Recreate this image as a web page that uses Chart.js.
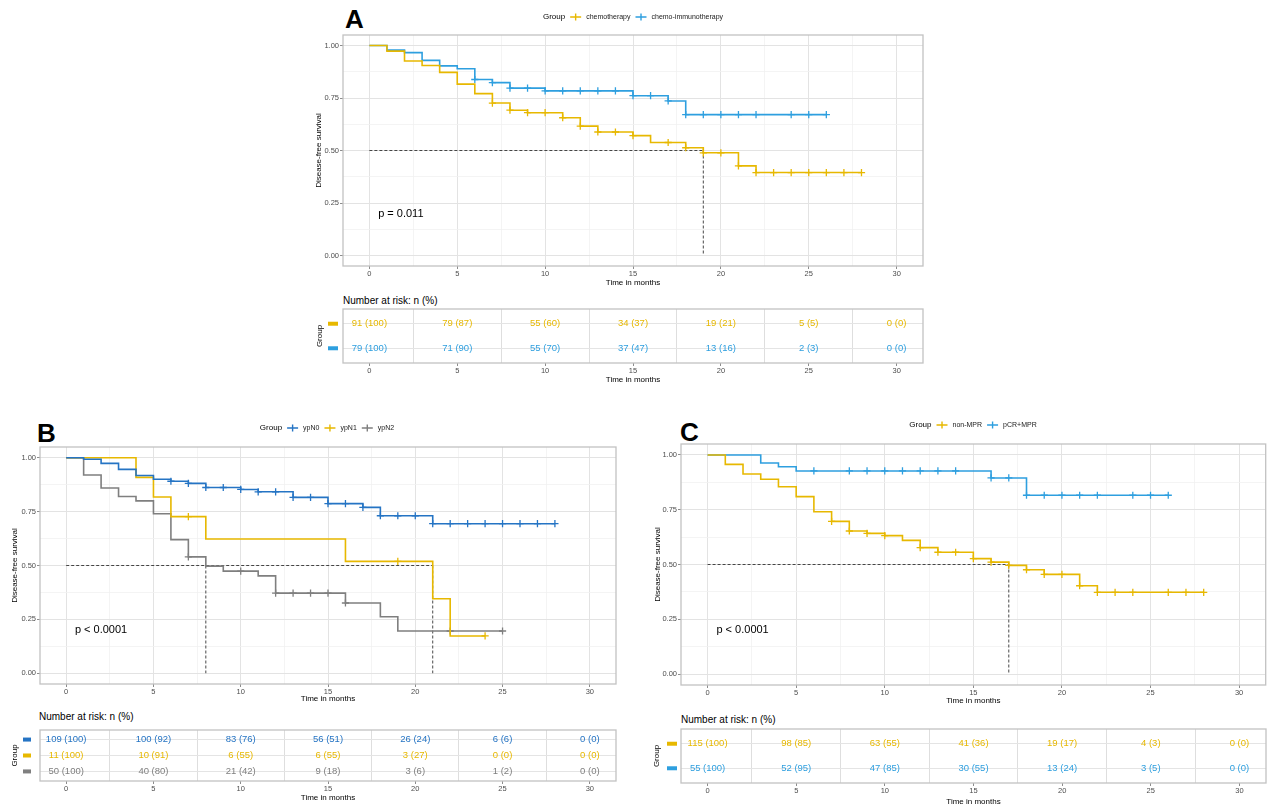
<!DOCTYPE html>
<html>
<head>
<meta charset="utf-8">
<script src="https://cdn.jsdelivr.net/npm/chart.js@4.4.1/dist/chart.umd.min.js"></script>
<style>
body { margin:0; background:#fff; width:1271px; height:809px; position:relative; overflow:hidden; font-family:'Liberation Sans', Arial, sans-serif; }
canvas { position:absolute; }
.lbl { position:absolute; white-space:nowrap; color:#000; }
.letter { font-weight:bold; font-size:26px; line-height:26px; }
.nrisk { font-size:10px; line-height:12px; }
</style>
</head>
<body>
<div class="lbl letter" style="left:345px;top:6px">A</div>
<div class="lbl letter" style="left:37px;top:420px">B</div>
<div class="lbl letter" style="left:680px;top:419px">C</div>
<div class="lbl nrisk" style="left:343px;top:295px">Number at risk: n (%)</div>
<div class="lbl nrisk" style="left:39px;top:711px">Number at risk: n (%)</div>
<div class="lbl nrisk" style="left:681px;top:714px">Number at risk: n (%)</div>
<script>
// ---------- data ----------
var riskTimes = [0, 5, 10, 15, 20, 25, 30];

// A : chemotherapy vs chemo-immunotherapy
var aChemoTime = [0, 1, 2, 3, 4, 5, 6, 7, 8, 9, 11, 12, 13, 15, 16, 18, 19, 21, 22, 28];
var aChemoSurv = [1, 0.973, 0.926, 0.905, 0.872, 0.816, 0.771, 0.726, 0.692, 0.680, 0.656, 0.616, 0.588, 0.571, 0.538, 0.513, 0.489, 0.427, 0.395, 0.395];
var aChemoCens = [7, 8, 9, 10, 11, 12, 13, 14, 15, 17, 18, 19, 20, 21, 22, 23, 24, 25, 26, 27, 28];
var aImmunoTime = [0, 1, 2, 3, 4, 5, 6, 7, 8, 10, 15, 17, 18, 26];
var aImmunoSurv = [1, 0.978, 0.966, 0.929, 0.903, 0.889, 0.838, 0.823, 0.797, 0.784, 0.761, 0.736, 0.671, 0.671];
var aImmunoCens = [6, 7, 8, 9, 10, 11, 12, 13, 14, 15, 16, 17, 18, 19, 20, 21, 22, 24, 25, 26];
var aMedians = [19];
var aRiskChemoN = [91, 79, 55, 34, 19, 5, 0];
var aRiskChemoPct = [100, 87, 60, 37, 21, 5, 0];
var aRiskImmunoN = [79, 71, 55, 37, 13, 2, 0];
var aRiskImmunoPct = [100, 90, 70, 47, 16, 3, 0];

// B : ypN0 / ypN1 / ypN2
var bN0Time = [0, 1, 2, 3, 4, 5, 6, 7, 8, 10, 11, 13, 15, 17, 18, 21, 28];
var bN0Surv = [1, 0.993, 0.974, 0.946, 0.918, 0.900, 0.891, 0.881, 0.862, 0.853, 0.842, 0.816, 0.787, 0.770, 0.731, 0.694, 0.694];
var bN0Cens = [6, 7, 8, 9, 10, 11, 12, 13, 14, 15, 16, 17, 18, 19, 20, 21, 22, 23, 24, 25, 26, 27, 28];
var bN1Time = [0, 4, 5, 6, 8, 16, 21, 22, 24];
var bN1Surv = [1, 0.909, 0.818, 0.727, 0.623, 0.519, 0.346, 0.173, 0.173];
var bN1Cens = [7, 19, 24];
var bN2Time = [0, 1, 2, 3, 4, 5, 6, 7, 8, 9, 11, 12, 16, 18, 19, 25];
var bN2Surv = [1, 0.920, 0.860, 0.820, 0.800, 0.740, 0.620, 0.540, 0.497, 0.474, 0.452, 0.372, 0.326, 0.262, 0.196, 0.196];
var bN2Cens = [7, 10, 12, 13, 14, 15, 16, 22, 25];
var bMedians = [8, 21];
var bRiskN0N = [109, 100, 83, 56, 26, 6, 0];
var bRiskN0Pct = [100, 92, 76, 51, 24, 6, 0];
var bRiskN1N = [11, 10, 6, 6, 3, 0, 0];
var bRiskN1Pct = [100, 91, 55, 55, 27, 0, 0];
var bRiskN2N = [50, 40, 21, 9, 3, 1, 0];
var bRiskN2Pct = [100, 80, 42, 18, 6, 2, 0];

// C : non-MPR vs pCR+MPR
var cNonTime = [0, 1, 2, 3, 4, 5, 6, 7, 8, 9, 10, 11, 12, 13, 15, 16, 17, 18, 19, 21, 22, 28];
var cNonSurv = [1, 0.957, 0.913, 0.889, 0.855, 0.810, 0.741, 0.697, 0.653, 0.642, 0.632, 0.610, 0.577, 0.556, 0.527, 0.511, 0.496, 0.476, 0.455, 0.403, 0.373, 0.373];
var cNonCens = [7, 8, 9, 10, 12, 13, 14, 15, 16, 17, 18, 19, 20, 21, 22, 23, 24, 26, 27, 28];
var cMprTime = [0, 3, 4, 5, 16, 18, 26];
var cMprSurv = [1, 0.963, 0.946, 0.927, 0.895, 0.816, 0.816];
var cMprCens = [6, 8, 9, 10, 11, 12, 13, 14, 16, 17, 18, 19, 20, 21, 22, 24, 25, 26];
var cMedians = [17];
var cRiskNonN = [115, 98, 63, 41, 19, 4, 0];
var cRiskNonPct = [100, 85, 55, 36, 17, 3, 0];
var cRiskMprN = [55, 52, 47, 30, 13, 3, 0];
var cRiskMprPct = [100, 95, 85, 55, 24, 5, 0];

var YELLOW = '#E7B800', BLUE = '#2E9FDF', DBLUE = '#2574C4', GREY = '#7f7f7f';
var FONT = "'Liberation Sans', Arial, sans-serif";

Chart.defaults.font.family = FONT;
Chart.defaults.color = '#4d4d4d';

// ---------- helpers ----------
function step_ticks(lo, hi, step)
{
	var out = [];
	for (var v = lo; v <= hi + 1e-9; v += step)
		out.push({value: Math.round(v * 1000) / 1000});
	return out;
}
function is_major(v, step)
{
	return Math.abs(v / step - Math.round(v / step)) < 1e-6;
}
function surv_at(time, surv, t)
{
	var s = surv[0];
	for (var i = 0; i < time.length; i++)
		if (time[i] <= t) s = surv[i];
	return s;
}
function make_canvas(id, b)
{
	var c = document.createElement('canvas');
	c.id = id;
	c.width = b.width; c.height = b.height;
	c.style.left = b.left + 'px'; c.style.top = b.top + 'px';
	c.style.width = b.width + 'px'; c.style.height = b.height + 'px';
	document.body.appendChild(c);
	return c.getContext('2d');
}
function border_plugin()
{
	return {
		id: 'panelBorder',
		afterDatasetsDraw: function(chart)
		{
			var a = chart.chartArea, ctx = chart.ctx;
			ctx.save();
			ctx.strokeStyle = '#c2c2c2';
			ctx.lineWidth = 1.3;
			ctx.strokeRect(a.left, a.top, a.right - a.left, a.bottom - a.top);
			ctx.restore();
		}
	};
}

//KM chart
function draw_km(id, b, groups, medians, pval)
{
	var ctx = make_canvas(id, b);
	var datasets = [];
	groups.forEach(function(g)
	{
		datasets.push({
			data: g.time.map(function(t, i){ return {x: t, y: g.surv[i]}; }),
			showLine: true, stepped: 'before', borderColor: g.color, borderWidth: 1.6,
			pointRadius: 0, fill: false
		});
	});
	groups.forEach(function(g)
	{
		datasets.push({
			data: g.cens.map(function(t){ return {x: t, y: surv_at(g.time, g.surv, t)}; }),
			showLine: false, pointStyle: 'cross', pointRadius: 3.6, pointBorderWidth: 1.3,
			borderColor: g.color, backgroundColor: g.color
		});
	});
	var last = Math.max.apply(null, medians);
	var dash = {showLine: true, borderColor: '#333', borderWidth: 0.9, borderDash: [3, 2], pointRadius: 0};
	datasets.push(Object.assign({data: [{x: 0, y: 0.5}, {x: last, y: 0.5}]}, dash));
	medians.forEach(function(m)
	{
		datasets.push(Object.assign({data: [{x: m, y: 0.5}, {x: m, y: 0}]}, dash));
	});

	var xH = b.top + b.height - b.areaBottom;
	var yW = b.areaLeft - b.left;
	var legend = {
		id: 'kmLegend',
		afterDraw: function(chart)
		{
			var c = chart.ctx;
			c.save();
			c.textBaseline = 'middle';
			c.font = '8px ' + FONT;
			var total = c.measureText('Group').width + 5;
			c.font = '7px ' + FONT;
			groups.forEach(function(g){ total += 16 + c.measureText(g.label).width + 5; });
			total -= 5;
			var x = b.legendX - b.left - total / 2, y = b.legendY - b.top;
			c.fillStyle = '#000';
			c.font = '8px ' + FONT;
			c.fillText('Group', x, y);
			x += c.measureText('Group').width + 5;
			c.font = '7px ' + FONT;
			groups.forEach(function(g)
			{
				c.strokeStyle = g.color;
				c.lineWidth = 1.4;
				c.beginPath();
				c.moveTo(x, y); c.lineTo(x + 11, y);
				c.moveTo(x + 5.5, y - 3.5); c.lineTo(x + 5.5, y + 3.5);
				c.stroke();
				c.fillStyle = '#1a1a1a';
				c.fillText(g.label, x + 16, y);
				x += 16 + c.measureText(g.label).width + 5;
			});
			// p value
			c.fillStyle = '#000';
			c.font = '11px ' + FONT;
			c.fillText(pval, chart.scales.x.getPixelForValue(0.5), chart.scales.y.getPixelForValue(0.2));
			c.restore();
		}
	};

	new Chart(ctx, {
		type: 'scatter',
		data: {datasets: datasets},
		plugins: [border_plugin(), legend],
		options: {
			responsive: false, animation: false, devicePixelRatio: 1, events: [],
			layout: {padding: {top: b.areaTop - b.top, right: b.left + b.width - b.areaRight, left: 0, bottom: 0}},
			plugins: {legend: {display: false}, tooltip: {enabled: false}},
			scales: {
				x: {
					type: 'linear', min: -1.5, max: 31.5,
					afterBuildTicks: function(s){ s.ticks = step_ticks(0, 30, 2.5); },
					afterFit: function(s){ s.height = xH; },
					ticks: {autoSkip: false, maxRotation: 0, padding: 0, font: {size: 7.5}, color: '#4d4d4d',
						callback: function(v){ return is_major(v, 5) ? String(v) : ''; }},
					grid: {
						color: function(c){ return is_major(c.tick.value, 5) ? '#e3e3e3' : '#f1f1f1'; },
						lineWidth: function(c){ return is_major(c.tick.value, 5) ? 1 : 0.8; },
						tickColor: function(c){ return is_major(c.tick.value, 5) ? '#8c8c8c' : 'rgba(0,0,0,0)'; },
						tickLength: 3
					},
					border: {display: false},
					title: {display: true, text: 'Time in months', color: '#000', font: {size: 8},
						padding: {top: 0, bottom: b.top + b.height - b.xTitleY - 4.8}}
				},
				y: {
					type: 'linear', min: -0.05, max: 1.05,
					afterBuildTicks: function(s){ s.ticks = step_ticks(0, 1, 0.125); },
					afterFit: function(s){ s.width = yW; },
					ticks: {autoSkip: false, padding: 1, font: {size: 7.5}, color: '#4d4d4d',
						callback: function(v){ return is_major(v, 0.25) ? v.toFixed(2) : ''; }},
					grid: {
						color: function(c){ return is_major(c.tick.value, 0.25) ? '#e3e3e3' : '#f1f1f1'; },
						lineWidth: function(c){ return is_major(c.tick.value, 0.25) ? 1 : 0.8; },
						tickColor: function(c){ return is_major(c.tick.value, 0.25) ? '#8c8c8c' : 'rgba(0,0,0,0)'; },
						tickLength: 3
					},
					border: {display: false},
					title: {display: true, text: 'Disease-free survival', color: '#000', font: {size: 8},
						padding: {top: b.yTitleX - b.left - 4.8, bottom: 0}}
				}
			}
		}
	});
}

//Risk table
function draw_table(id, b, rows)
{
	var ctx = make_canvas(id, b);
	var nRows = rows.length;
	var datasets = rows.map(function(r, k)
	{
		return {
			data: riskTimes.map(function(t){ return {x: t, y: nRows - k}; }),
			labels: r.n.map(function(n, j){ return n + ' (' + r.pct[j] + ')'; }),
			showLine: false, pointRadius: 0, color: r.color
		};
	});
	var xH = b.top + b.height - b.areaBottom;
	var yW = b.areaLeft - b.left;
	var cells = {
		id: 'riskCells',
		afterDatasetsDraw: function(chart)
		{
			var c = chart.ctx;
			c.save();
			c.font = '9.5px ' + FONT;
			c.textAlign = 'center';
			c.textBaseline = 'middle';
			chart.data.datasets.forEach(function(ds, k)
			{
				c.fillStyle = ds.color;
				chart.getDatasetMeta(k).data.forEach(function(pt, j)
				{
					c.fillText(ds.labels[j], pt.x, pt.y);
				});
				// coloured key in place of the y labels
				var y = chart.scales.y.getPixelForValue(nRows - k);
				c.fillRect(b.dashX - b.left, y - 2, b.dashW, 4);
			});
			c.restore();
		}
	};
	new Chart(ctx, {
		type: 'scatter',
		data: {datasets: datasets},
		plugins: [border_plugin(), cells],
		options: {
			responsive: false, animation: false, devicePixelRatio: 1, events: [],
			layout: {padding: {top: b.areaTop - b.top, right: b.left + b.width - b.areaRight, left: 0, bottom: 0}},
			plugins: {legend: {display: false}, tooltip: {enabled: false}},
			scales: {
				x: {
					type: 'linear', min: -1.5, max: 31.5,
					afterBuildTicks: function(s){ s.ticks = step_ticks(0, 30, 2.5); },
					afterFit: function(s){ s.height = xH; },
					ticks: {autoSkip: false, maxRotation: 0, padding: 0, font: {size: 7.5}, color: '#4d4d4d',
						callback: function(v){ return is_major(v, 5) ? String(v) : ''; }},
					grid: {
						color: function(c){ return is_major(c.tick.value, 5) ? 'rgba(0,0,0,0)' : '#dedede'; },
						tickColor: function(c){ return is_major(c.tick.value, 5) ? '#8c8c8c' : 'rgba(0,0,0,0)'; },
						tickLength: 3
					},
					border: {display: false},
					title: {display: true, text: 'Time in months', color: '#000', font: {size: 8},
						padding: {top: 0, bottom: b.top + b.height - b.xTitleY - 4.8}}
				},
				y: {
					type: 'linear', min: 0.4, max: nRows + 0.6,
					afterBuildTicks: function(s){ s.ticks = step_ticks(1, nRows, 1); },
					afterFit: function(s){ s.width = yW; },
					ticks: {display: false},
					grid: {color: '#e4e4e4', drawTicks: false},
					border: {display: false},
					title: {display: true, text: 'Group', color: '#000', font: {size: 8},
						padding: {top: b.yTitleX - b.left - 4.8, bottom: 0}}
				}
			}
		}
	});
}

// ---------- panel A ----------
draw_km('km_a',
	{left: 290, top: 0, width: 640, height: 290, areaLeft: 343, areaTop: 35, areaRight: 923, areaBottom: 266,
	 yTitleX: 319, xTitleY: 283, legendX: 633, legendY: 17},
	[{label: 'chemotherapy', color: YELLOW, time: aChemoTime, surv: aChemoSurv, cens: aChemoCens},
	 {label: 'chemo-immunotherapy', color: BLUE, time: aImmunoTime, surv: aImmunoSurv, cens: aImmunoCens}],
	aMedians, 'p = 0.011');
draw_table('tbl_a',
	{left: 290, top: 290, width: 640, height: 100, areaLeft: 343, areaTop: 309, areaRight: 923, areaBottom: 363,
	 yTitleX: 320, xTitleY: 380, dashX: 328, dashW: 10},
	[{color: YELLOW, n: aRiskChemoN, pct: aRiskChemoPct},
	 {color: BLUE, n: aRiskImmunoN, pct: aRiskImmunoPct}]);

// ---------- panel B ----------
draw_km('km_b',
	{left: 0, top: 415, width: 625, height: 295, areaLeft: 40, areaTop: 447, areaRight: 616, areaBottom: 684,
	 yTitleX: 15, xTitleY: 699, legendX: 327, legendY: 428},
	[{label: 'ypN0', color: DBLUE, time: bN0Time, surv: bN0Surv, cens: bN0Cens},
	 {label: 'ypN1', color: YELLOW, time: bN1Time, surv: bN1Surv, cens: bN1Cens},
	 {label: 'ypN2', color: GREY, time: bN2Time, surv: bN2Surv, cens: bN2Cens}],
	bMedians, 'p < 0.0001');
draw_table('tbl_b',
	{left: 0, top: 710, width: 625, height: 99, areaLeft: 40, areaTop: 730, areaRight: 616, areaBottom: 781,
	 yTitleX: 15, xTitleY: 798, dashX: 23, dashW: 8},
	[{color: DBLUE, n: bRiskN0N, pct: bRiskN0Pct},
	 {color: YELLOW, n: bRiskN1N, pct: bRiskN1Pct},
	 {color: GREY, n: bRiskN2N, pct: bRiskN2Pct}]);

// ---------- panel C ----------
draw_km('km_c',
	{left: 630, top: 410, width: 641, height: 300, areaLeft: 681, areaTop: 444, areaRight: 1266, areaBottom: 685,
	 yTitleX: 658, xTitleY: 701, legendX: 973, legendY: 425},
	[{label: 'non-MPR', color: YELLOW, time: cNonTime, surv: cNonSurv, cens: cNonCens},
	 {label: 'pCR+MPR', color: BLUE, time: cMprTime, surv: cMprSurv, cens: cMprCens}],
	cMedians, 'p < 0.0001');
draw_table('tbl_c',
	{left: 630, top: 710, width: 641, height: 99, areaLeft: 681, areaTop: 729, areaRight: 1266, areaBottom: 783,
	 yTitleX: 657, xTitleY: 802, dashX: 667, dashW: 10},
	[{color: YELLOW, n: cRiskNonN, pct: cRiskNonPct},
	 {color: BLUE, n: cRiskMprN, pct: cRiskMprPct}]);
</script>
</body>
</html>
